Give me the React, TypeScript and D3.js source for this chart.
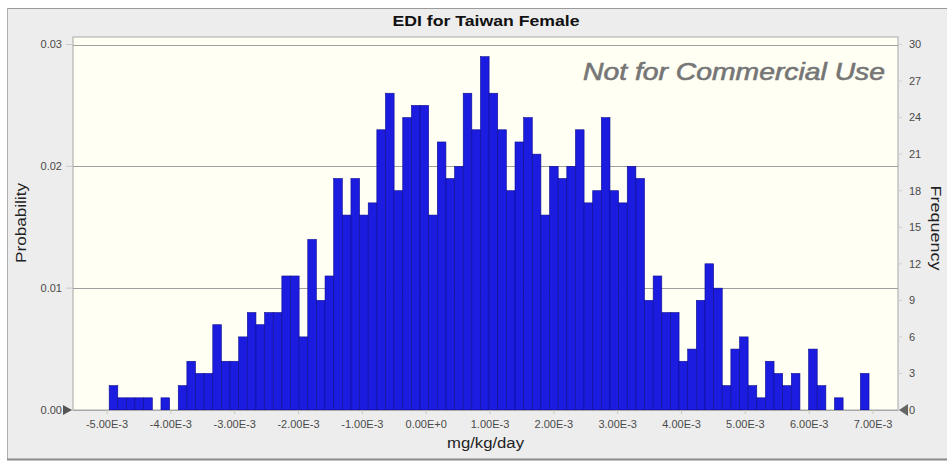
import React from "react";
import * as d3 from "d3";

// ---- data (x in units of 1E-3 mg/kg/day) ----
const binStart = -4.966;
const binWidth = 0.13527;
const frequencies: number[] = [
  2, 1, 1, 1, 1, 0, 1, 0, 2, 4,
  3, 3, 7, 4, 4, 6, 8, 7, 8, 8,
  11, 11, 6, 14, 9, 11, 19, 16, 19, 16,
  17, 23, 26, 18, 24, 25, 25, 16, 22, 19,
  20, 26, 23, 29, 26, 23, 18, 22, 24, 21,
  16, 20, 19, 20, 23, 17, 18, 24, 18, 17,
  20, 19, 9, 11, 8, 8, 4, 5, 9, 12,
  10, 2, 5, 6, 2, 1, 4, 3, 2, 3,
  0, 5, 2, 0, 1, 0, 0, 3,
];
const xTickValues: number[] = [-5, -4, -3, -2, -1, 0, 1, 2, 3, 4, 5, 6, 7];
const xTickLabels: string[] = [
  "-5.00E-3", "-4.00E-3", "-3.00E-3", "-2.00E-3", "-1.00E-3", "0.00E+0",
  "1.00E-3", "2.00E-3", "3.00E-3", "4.00E-3", "5.00E-3", "6.00E-3", "7.00E-3",
];
const probTicks: number[] = [0, 0.01, 0.02, 0.03];
const probTickLabels: string[] = ["0.00", "0.01", "0.02", "0.03"];
const freqTicks: number[] = [0, 3, 6, 9, 12, 15, 18, 21, 24, 27, 30];
const totalCount = 1000;

const title = "EDI for Taiwan Female";
const xLabel = "mg/kg/day";
const yLeftLabel = "Probability";
const yRightLabel = "Frequency";
const watermark = "Not for Commercial Use";

export default function App() {
  const W = 947;
  const H = 461;
  const plotL = 73;
  const plotR = 898;
  const plotT = 37;
  const baseY = 410;

  const x = d3.scaleLinear().domain([-5, 7]).range([107, 873]);
  const yF = d3.scaleLinear().domain([0, 30]).range([baseY, 44.5]);
  const yP = d3.scaleLinear().domain([0, 30 / totalCount]).range([baseY, 44.5]);

  const font = "'Liberation Sans', Arial, sans-serif";
  const tickColor = "#4a4a4a";

  return (
    <svg
      width={W}
      height={H}
      style={{ position: "absolute", left: 0, top: 0, display: "block" }}
      fontFamily={font}
    >
      <rect x={0} y={0} width={W} height={H} fill="#ffffff" />
      <rect x={7} y={8} width={W - 7} height={451} fill="#ededed" />
      <line x1={7} x2={W} y1={8.5} y2={8.5} stroke="#9a9a9a" />
      <line x1={7.5} x2={7.5} y1={8} y2={459} stroke="#b0b0b0" />
      <line x1={7} x2={W} y1={459.5} y2={459.5} stroke="#8a8a8a" strokeWidth={2} />

      {/* title */}
      <text
        x={486}
        y={26}
        textAnchor="middle"
        fontSize={14.5}
        fontWeight="bold"
        fill="#111"
        textLength={187}
        lengthAdjust="spacingAndGlyphs"
      >
        {title}
      </text>

      {/* plot area */}
      <rect x={plotL} y={plotT} width={plotR - plotL} height={baseY - plotT} fill="#fffff3" stroke="#a8a8a8" />

      {/* gridlines */}
      {probTicks.slice(1).map((p) => (
        <line key={"g" + p} x1={plotL} x2={plotR} y1={Math.round(yP(p)) + 0.5} y2={Math.round(yP(p)) + 0.5} stroke="#a0a0a0" />
      ))}

      {/* watermark */}
      <text
        x={583}
        y={80}
        fontSize={23}
        fontStyle="italic"
        fill="#767676"
        stroke="#767676"
        strokeWidth={0.6}
        textLength={302}
        lengthAdjust="spacingAndGlyphs"
      >
        {watermark}
      </text>

      {/* bars */}
      {frequencies.map((f, i) =>
        f > 0 ? (
          <rect
            key={"b" + i}
            x={x(binStart + i * binWidth)}
            y={yF(f)}
            width={x(binStart + (i + 1) * binWidth) - x(binStart + i * binWidth)}
            height={baseY - yF(f)}
            fill="#1c1ce0"
            stroke="#0c0c90"
            strokeWidth={0.6}
          />
        ) : null
      )}

      {/* baseline */}
      <line x1={plotL} x2={plotR} y1={baseY + 0.5} y2={baseY + 0.5} stroke="#a8a8a8" />

      {/* x ticks */}
      {xTickValues.map((v, i) => (
        <g key={"xt" + i}>
          <line x1={x(v)} x2={x(v)} y1={baseY} y2={baseY + 4} stroke="#c8c8b8" />
          <text x={x(v)} y={427.5} textAnchor="middle" fontSize={11} fill={tickColor}>
            {xTickLabels[i]}
          </text>
        </g>
      ))}

      {/* left ticks */}
      {probTicks.map((p, i) => (
        <g key={"pt" + i}>
          <line x1={66} x2={plotL} y1={yP(p)} y2={yP(p)} stroke="#c8c8c8" />
          <text x={62} y={yP(p)} dy="0.35em" textAnchor="end" fontSize={11} fill={tickColor}>
            {probTickLabels[i]}
          </text>
        </g>
      ))}

      {/* right ticks */}
      {freqTicks.map((f) => (
        <g key={"ft" + f}>
          <line x1={plotR} x2={plotR + 4} y1={yF(f)} y2={yF(f)} stroke="#d0d0d0" />
          <text x={909} y={yF(f)} dy="0.35em" textAnchor="start" fontSize={11} fill={tickColor}>
            {f}
          </text>
        </g>
      ))}

      {/* baseline markers */}
      <path d={`M63,${baseY - 5} L72,${baseY} L63,${baseY + 5} Z`} fill="#555" />
      <path d={`M908,${baseY - 6} L899,${baseY} L908,${baseY + 6} Z`} fill="#666" />

      {/* axis labels */}
      <text
        x={485.5}
        y={447.5}
        textAnchor="middle"
        fontSize={14}
        fill="#222"
        textLength={77}
        lengthAdjust="spacingAndGlyphs"
      >
        {xLabel}
      </text>
      <text
        transform="translate(26,223) rotate(-90)"
        textAnchor="middle"
        fontSize={14}
        fill="#222"
        textLength={80}
        lengthAdjust="spacingAndGlyphs"
      >
        {yLeftLabel}
      </text>
      <text
        transform="translate(931,228) rotate(90)"
        textAnchor="middle"
        fontSize={14}
        fill="#222"
        textLength={85}
        lengthAdjust="spacingAndGlyphs"
      >
        {yRightLabel}
      </text>
    </svg>
  );
}
